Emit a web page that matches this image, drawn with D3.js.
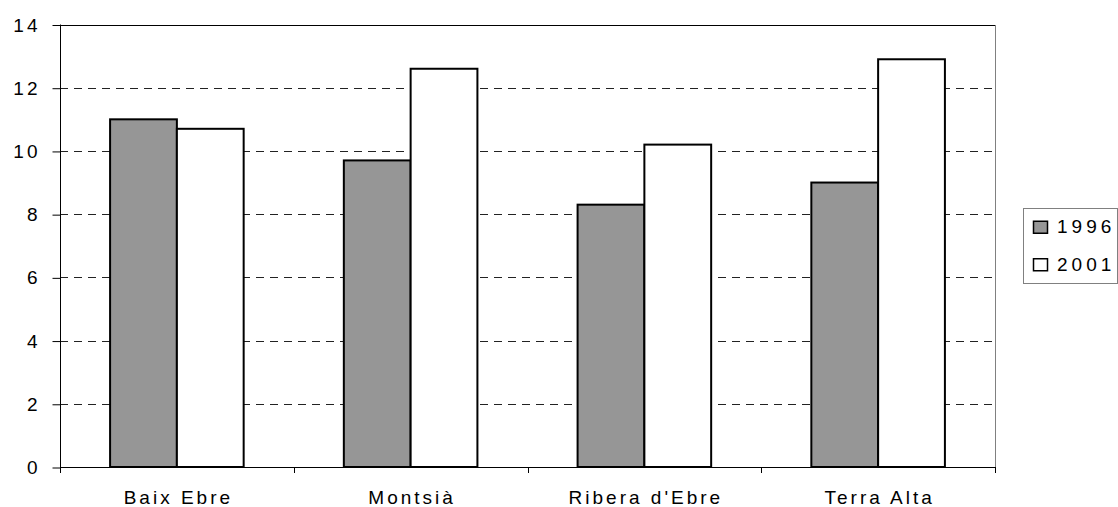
<!DOCTYPE html>
<html>
<head>
<meta charset="utf-8">
<script src="https://cdn.jsdelivr.net/npm/d3@7"></script>
<style>
  html, body { margin: 0; padding: 0; background: #fff; }
  svg { display: block; }
  text { font-family: "Liberation Sans", Arial, sans-serif; fill: #000; }
</style>
</head>
<body>
<svg id="chart" width="1118" height="507"></svg>
<script>
const categories = ["Baix Ebre", "Montsià", "Ribera d'Ebre", "Terra Alta"];
const seriesNames = ["1996", "2001"];
const values1996 = [11.0, 9.7, 8.3, 9.0];
const values2001 = [10.7, 12.6, 10.2, 12.9];
const yTicks = [0, 2, 4, 6, 8, 10, 12, 14];

const seriesValues = { "1996": values1996, "2001": values2001 };
const seriesFill = { "1996": "#969696", "2001": "#ffffff" };

const svg = d3.select("#chart");
const pLeft = 60, pRight = 995, pTop = 24.5, pBottom = 467;
const FS = 19;   // font size
const LS = 3;    // letter spacing

const x0 = d3.scaleBand().domain(categories).range([pLeft, pRight]).paddingInner(0).paddingOuter(0);
const x1 = d3.scaleBand().domain(seriesNames).range([0, x0.bandwidth()]).paddingInner(0).paddingOuter(0.75);
const y = d3.scaleLinear().domain([0, 14]).range([pBottom, pTop]);

// gridlines
const grid = svg.append("g");
yTicks.filter(t => t > 0 && t < 14).forEach(t => {
  const yy = Math.round(y(t)) + 0.5;
  grid.append("line")
    .attr("x1", pLeft).attr("x2", pRight)
    .attr("y1", yy).attr("y2", yy)
    .attr("stroke", "#222").attr("stroke-width", 1)
    .attr("stroke-dasharray", "8,6");
});

// plot border: top solid black, right gray
svg.append("line").attr("x1", pLeft).attr("x2", pRight + 0.5)
  .attr("y1", Math.round(y(14)) + 0.5).attr("y2", Math.round(y(14)) + 0.5)
  .attr("stroke", "#000").attr("stroke-width", 1);
svg.append("line").attr("x1", pRight + 0.5).attr("x2", pRight + 0.5)
  .attr("y1", Math.round(y(14)) + 0.5).attr("y2", pBottom)
  .attr("stroke", "#808080").attr("stroke-width", 1);

// bars
const groups = svg.append("g").selectAll("g").data(categories).join("g")
  .attr("transform", d => `translate(${x0(d)},0)`);
groups.selectAll("rect")
  .data((d, i) => seriesNames.map(s => ({ s, v: seriesValues[s][i] })))
  .join("rect")
  .attr("x", d => x1(d.s))
  .attr("y", d => y(d.v))
  .attr("width", x1.bandwidth())
  .attr("height", d => pBottom - y(d.v))
  .attr("fill", d => seriesFill[d.s])
  .attr("stroke", "#000")
  .attr("stroke-width", 2);

// y axis
const yAxis = d3.axisLeft(y).tickValues(yTicks).tickSize(8).tickPadding(12).tickFormat(d3.format("d"));
const gy = svg.append("g").attr("transform", `translate(${pLeft + 0.5},0.5)`).call(yAxis);
gy.select(".domain").remove();
gy.selectAll(".tick line").attr("stroke", "#000");
gy.selectAll(".tick text")
  .style("font-size", FS + "px")
  .style("letter-spacing", LS + "px")
  .attr("font-family", null);
svg.append("line").attr("x1", pLeft + 0.5).attr("x2", pLeft + 0.5)
  .attr("y1", pTop).attr("y2", pBottom + 6)
  .attr("stroke", "#000").attr("stroke-width", 1);

// x axis
const xAxis = d3.axisBottom(x0).tickSize(0).tickPadding(23.5);
const gx = svg.append("g").attr("transform", `translate(0,${pBottom})`).call(xAxis);
gx.select(".domain").remove();
gx.selectAll(".tick text")
  .style("font-size", FS + "px")
  .style("letter-spacing", LS + "px")
  .attr("dx", LS / 2)
  .attr("font-family", null);
svg.append("line").attr("x1", pLeft).attr("x2", pRight + 1)
  .attr("y1", pBottom + 0.5).attr("y2", pBottom + 0.5)
  .attr("stroke", "#000").attr("stroke-width", 1);
// category boundary ticks
const bounds = categories.map(c => x0(c)).concat([pRight]);
svg.append("g").selectAll("line").data(bounds).join("line")
  .attr("x1", d => Math.round(d) + 0.5).attr("x2", d => Math.round(d) + 0.5)
  .attr("y1", pBottom).attr("y2", pBottom + 6)
  .attr("stroke", "#000").attr("stroke-width", 1);

// legend
const lg = svg.append("g").attr("transform", "translate(1023,208)");
lg.append("rect").attr("x", 0.5).attr("y", 0.5).attr("width", 94).attr("height", 75)
  .attr("fill", "#fff").attr("stroke", "#808080").attr("stroke-width", 1);
const items = lg.selectAll("g.item").data(seriesNames).join("g")
  .attr("class", "item")
  .attr("transform", (d, i) => `translate(0,${18.75 + i * 37.5})`);
items.append("rect").attr("x", 10.5).attr("y", -5.5).attr("width", 14).attr("height", 12)
  .attr("fill", d => seriesFill[d]).attr("stroke", "#000").attr("stroke-width", 1.5);
items.append("text").attr("x", 34).attr("y", 0).attr("dy", "0.35em")
  .style("font-size", FS + "px").style("letter-spacing", "4px")
  .text(d => d);
</script>
</body>
</html>
